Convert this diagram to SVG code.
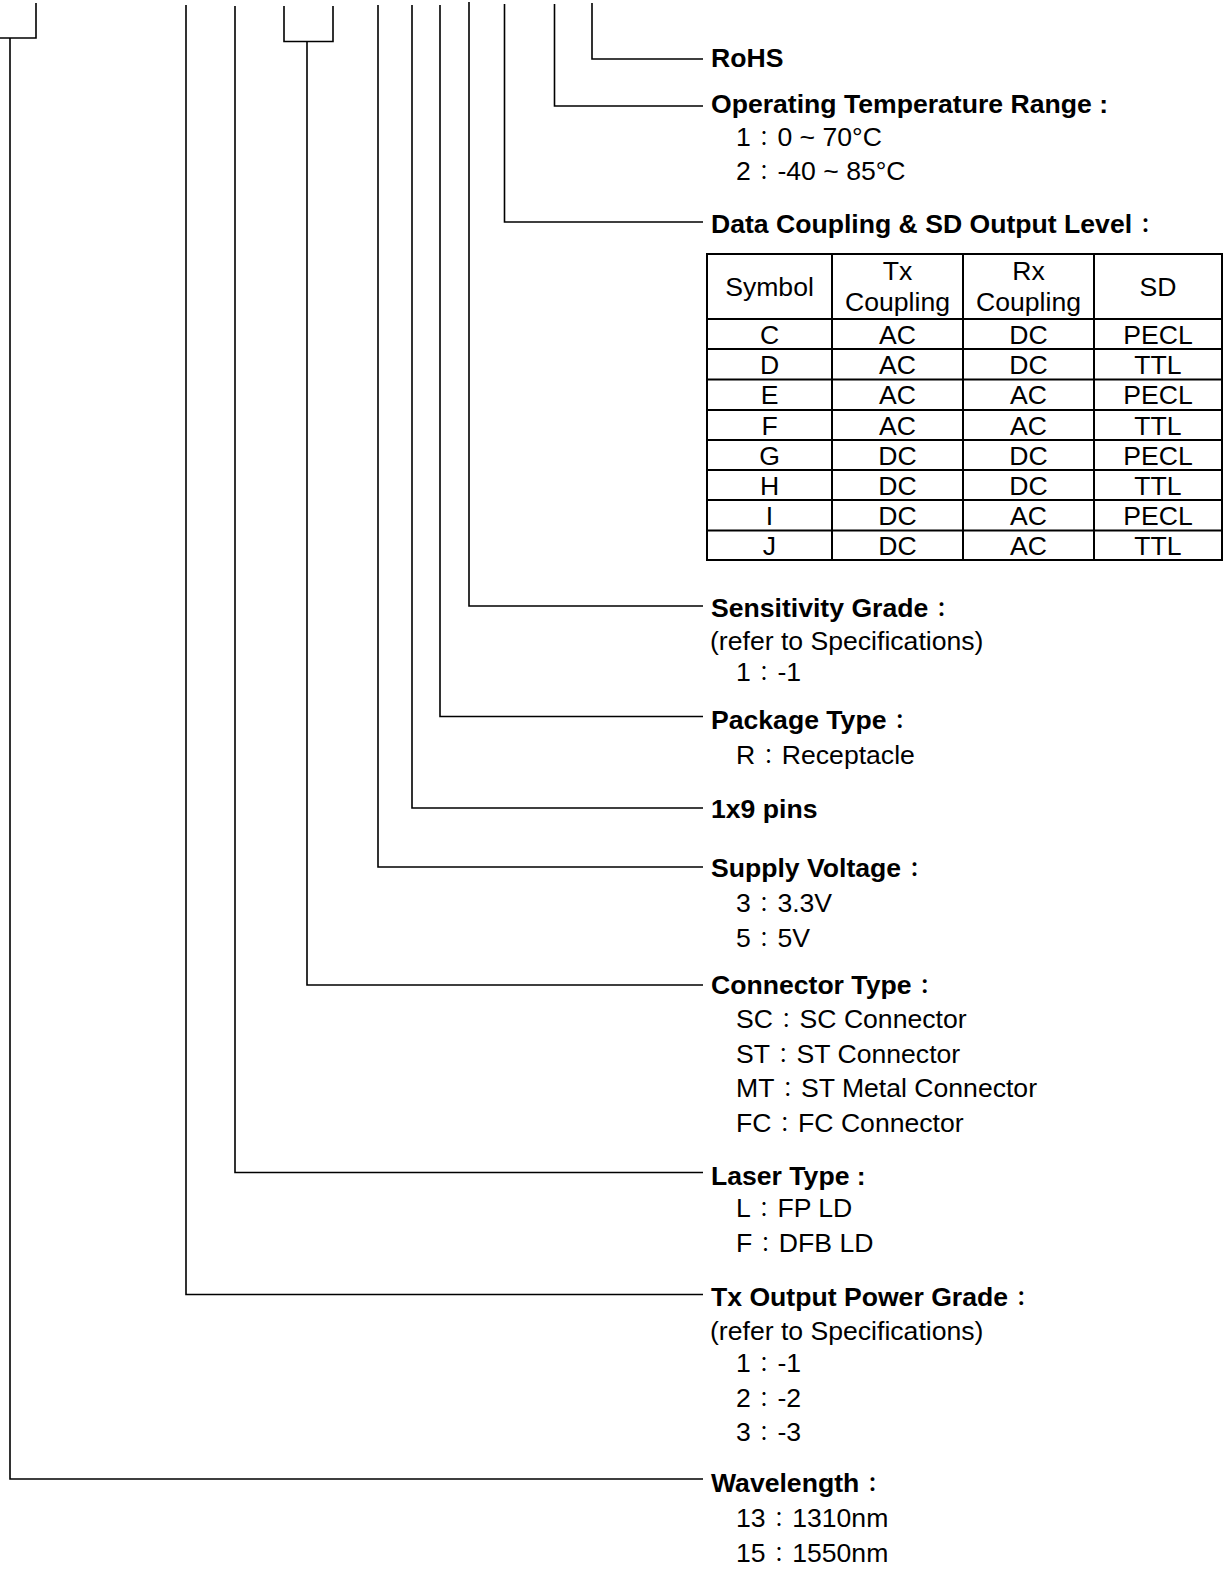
<svg xmlns="http://www.w3.org/2000/svg" width="1224" height="1573" viewBox="0 0 1224 1573">
<style>
text{font-family:"Liberation Sans","Noto Sans CJK TC",Arial,sans-serif;font-size:26.6px;fill:#000}
.h{font-weight:bold}
.c{text-anchor:middle}
.k{font-family:"Noto Sans CJK TC","Liberation Sans",sans-serif;font-size:20px}
.conn path{fill:none;stroke:#000;stroke-width:1.6}
.tbl line,.tbl rect{fill:none;stroke:#000;stroke-width:2}
</style>
<rect width="1224" height="1573" fill="#fff"/>
<g id="connectors" class="conn">
<path d="M36,3 V38 H0"/>
<path d="M10,38 V1479 H703"/>
<path d="M186,5 V1294.5 H703"/>
<path d="M235,6 V1172.5 H703"/>
<path d="M284,6 V41.5 H333 V6"/>
<path d="M307,41.5 V985 H703"/>
<path d="M378,5 V867 H703"/>
<path d="M412,5 V808 H703"/>
<path d="M440,5 V716.5 H703"/>
<path d="M469,2 V606 H703"/>
<path d="M504.5,4 V222 H703"/>
<path d="M554.5,4 V106 H703"/>
<path d="M592,3 V59 H703"/>
</g>
<g id="rohs"><text class="h" x="711" y="67">RoHS</text></g>
<g id="temp">
<text class="h" x="711" y="113.3">Operating Temperature Range :</text>
<text x="736" y="146.3">1<tspan class="k" dx="3.3">：</tspan><tspan dx="3.3">0 ~ 70°C</tspan></text>
<text x="736" y="180.3">2<tspan class="k" dx="3.3">：</tspan><tspan dx="3.3">-40 ~ 85°C</tspan></text>
</g>
<g id="coupling">
<text class="h" x="711" y="233.3">Data Coupling &amp; SD Output Level<tspan class="k" dx="3.3">：</tspan></text>
<g class="tbl">
<rect x="707" y="254" width="515" height="306"/>
<line x1="707" y1="319" x2="1222" y2="319"/>
<line x1="707" y1="349" x2="1222" y2="349"/>
<line x1="707" y1="379.5" x2="1222" y2="379.5"/>
<line x1="707" y1="410" x2="1222" y2="410"/>
<line x1="707" y1="440" x2="1222" y2="440"/>
<line x1="707" y1="470" x2="1222" y2="470"/>
<line x1="707" y1="500" x2="1222" y2="500"/>
<line x1="707" y1="530.5" x2="1222" y2="530.5"/>
<line x1="832" y1="254" x2="832" y2="560"/>
<line x1="963" y1="254" x2="963" y2="560"/>
<line x1="1094" y1="254" x2="1094" y2="560"/>
</g>
<text class="c" x="769.5" y="296.3">Symbol</text>
<text class="c" x="897.5" y="280.3">Tx</text>
<text class="c" x="897.5" y="311.3">Coupling</text>
<text class="c" x="1028.5" y="280.3">Rx</text>
<text class="c" x="1028.5" y="311.3">Coupling</text>
<text class="c" x="1158" y="296.3">SD</text>
<text class="c" x="769.5" y="343.6">C</text><text class="c" x="897.5" y="343.6">AC</text><text class="c" x="1028.5" y="343.6">DC</text><text class="c" x="1158" y="343.6">PECL</text>
<text class="c" x="769.5" y="373.8">D</text><text class="c" x="897.5" y="373.8">AC</text><text class="c" x="1028.5" y="373.8">DC</text><text class="c" x="1158" y="373.8">TTL</text>
<text class="c" x="769.5" y="404.3">E</text><text class="c" x="897.5" y="404.3">AC</text><text class="c" x="1028.5" y="404.3">AC</text><text class="c" x="1158" y="404.3">PECL</text>
<text class="c" x="769.5" y="434.6">F</text><text class="c" x="897.5" y="434.6">AC</text><text class="c" x="1028.5" y="434.6">AC</text><text class="c" x="1158" y="434.6">TTL</text>
<text class="c" x="769.5" y="464.6">G</text><text class="c" x="897.5" y="464.6">DC</text><text class="c" x="1028.5" y="464.6">DC</text><text class="c" x="1158" y="464.6">PECL</text>
<text class="c" x="769.5" y="494.6">H</text><text class="c" x="897.5" y="494.6">DC</text><text class="c" x="1028.5" y="494.6">DC</text><text class="c" x="1158" y="494.6">TTL</text>
<text class="c" x="769.5" y="524.8">I</text><text class="c" x="897.5" y="524.8">DC</text><text class="c" x="1028.5" y="524.8">AC</text><text class="c" x="1158" y="524.8">PECL</text>
<text class="c" x="769.5" y="555.1">J</text><text class="c" x="897.5" y="555.1">DC</text><text class="c" x="1028.5" y="555.1">AC</text><text class="c" x="1158" y="555.1">TTL</text>
</g>
<g id="sensitivity">
<text class="h" x="711" y="617.3">Sensitivity Grade<tspan class="k" dx="3.3">：</tspan></text>
<text x="710" y="649.8">(refer to Specifications)</text>
<text x="736" y="681.3">1<tspan class="k" dx="3.3">：</tspan><tspan dx="3.3">-1</tspan></text>
</g>
<g id="package">
<text class="h" x="711" y="729">Package Type<tspan class="k" dx="3.3">：</tspan></text>
<text x="736" y="764.3">R<tspan class="k" dx="3.3">：</tspan><tspan dx="3.3">Receptacle</tspan></text>
</g>
<g id="pins"><text class="h" x="711" y="817.5">1x9 pins</text></g>
<g id="voltage">
<text class="h" x="711" y="877">Supply Voltage<tspan class="k" dx="3.3">：</tspan></text>
<text x="736" y="912.3">3<tspan class="k" dx="3.3">：</tspan><tspan dx="3.3">3.3V</tspan></text>
<text x="736" y="947.3">5<tspan class="k" dx="3.3">：</tspan><tspan dx="3.3">5V</tspan></text>
</g>
<g id="connector">
<text class="h" x="711" y="994">Connector Type<tspan class="k" dx="3.3">：</tspan></text>
<text x="736" y="1028.3">SC<tspan class="k" dx="3.3">：</tspan><tspan dx="3.3">SC Connector</tspan></text>
<text x="736" y="1062.8">ST<tspan class="k" dx="3.3">：</tspan><tspan dx="3.3">ST Connector</tspan></text>
<text x="736" y="1097">MT<tspan class="k" dx="3.3">：</tspan><tspan dx="3.3">ST Metal Connector</tspan></text>
<text x="736" y="1132">FC<tspan class="k" dx="3.3">：</tspan><tspan dx="3.3">FC Connector</tspan></text>
</g>
<g id="laser">
<text class="h" x="711" y="1184.5">Laser Type :</text>
<text x="736" y="1216.8">L<tspan class="k" dx="3.3">：</tspan><tspan dx="3.3">FP LD</tspan></text>
<text x="736" y="1251.8">F<tspan class="k" dx="3.3">：</tspan><tspan dx="3.3">DFB LD</tspan></text>
</g>
<g id="txpower">
<text class="h" x="711" y="1306">Tx Output Power Grade<tspan class="k" dx="3.3">：</tspan></text>
<text x="710" y="1340.3">(refer to Specifications)</text>
<text x="736" y="1372">1<tspan class="k" dx="3.3">：</tspan><tspan dx="3.3">-1</tspan></text>
<text x="736" y="1406.5">2<tspan class="k" dx="3.3">：</tspan><tspan dx="3.3">-2</tspan></text>
<text x="736" y="1440.8">3<tspan class="k" dx="3.3">：</tspan><tspan dx="3.3">-3</tspan></text>
</g>
<g id="wavelength">
<text class="h" x="711" y="1492.3">Wavelength<tspan class="k" dx="3.3">：</tspan></text>
<text x="736" y="1527.3">13<tspan class="k" dx="3.3">：</tspan><tspan dx="3.3">1310nm</tspan></text>
<text x="736" y="1562.3">15<tspan class="k" dx="3.3">：</tspan><tspan dx="3.3">1550nm</tspan></text>
</g>
</svg>
